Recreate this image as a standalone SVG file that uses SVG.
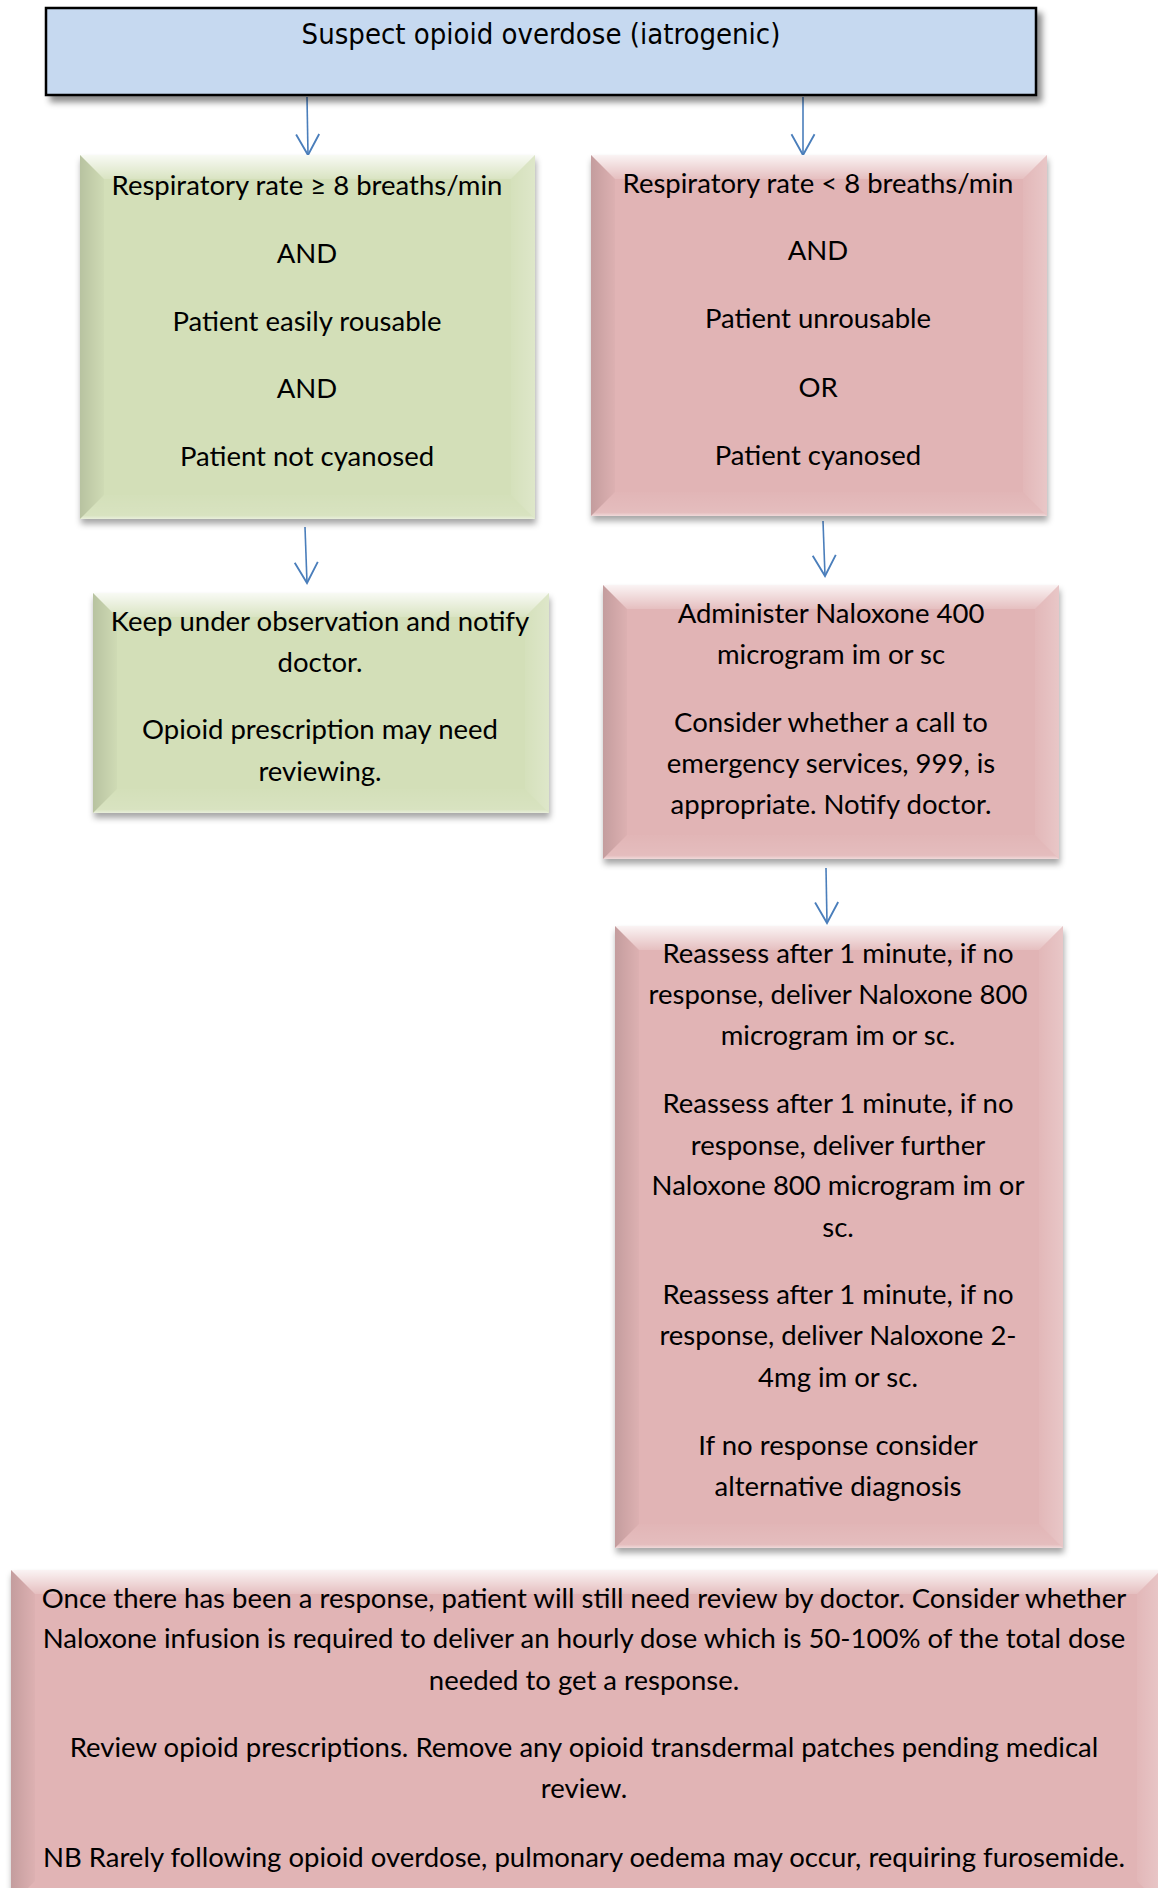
<svg xmlns="http://www.w3.org/2000/svg" width="1158" height="1888" viewBox="0 0 1158 1888">
<defs>
<style>
.t{font-family:Lato,"Open Sans","Liberation Sans",sans-serif;font-size:27.5px;fill:#000;text-anchor:middle}
.tt{font-family:"DejaVu Sans Condensed","DejaVu Sans",sans-serif;font-size:29px;fill:#000;text-anchor:middle}
.g{fill:#d3dfb8}
.r{fill:#e1b4b5}
.bt{fill:url(#gTop)}
.bl{fill:url(#gLeft)}
.br{fill:url(#gRight)}
.bb{fill:url(#gBot)}
.conn{stroke:#4a7ebb;stroke-width:1.6;fill:none;marker-end:url(#ah)}
</style>
<linearGradient id="gTop" x1="0" y1="0" x2="0" y2="1"><stop offset="0" stop-color="#fff" stop-opacity="0.85"/><stop offset="1" stop-color="#fff" stop-opacity="0.15"/></linearGradient>
<linearGradient id="gLeft" x1="0" y1="0" x2="1" y2="0"><stop offset="0" stop-color="#000" stop-opacity="0.13"/><stop offset="1" stop-color="#000" stop-opacity="0.02"/></linearGradient>
<linearGradient id="gRight" x1="0" y1="0" x2="1" y2="0"><stop offset="0" stop-color="#fff" stop-opacity="0.05"/><stop offset="1" stop-color="#fff" stop-opacity="0.25"/></linearGradient>
<linearGradient id="gBot" x1="0" y1="0" x2="0" y2="1"><stop offset="0" stop-color="#fff" stop-opacity="0.02"/><stop offset="0.85" stop-color="#fff" stop-opacity="0.12"/><stop offset="1" stop-color="#fff" stop-opacity="0.5"/></linearGradient>
<filter id="sh" x="-5%" y="-5%" width="110%" height="115%">
<feGaussianBlur in="SourceAlpha" stdDeviation="3"/>
<feOffset dx="1" dy="5" result="b"/>
<feFlood flood-color="#000" flood-opacity="0.35"/>
<feComposite in2="b" operator="in"/>
<feMerge><feMergeNode/><feMergeNode in="SourceGraphic"/></feMerge>
</filter>
<filter id="sh2" x="-5%" y="-20%" width="110%" height="150%">
<feGaussianBlur in="SourceAlpha" stdDeviation="3"/>
<feOffset dx="5" dy="6" result="b"/>
<feFlood flood-color="#000" flood-opacity="0.45"/>
<feComposite in2="b" operator="in"/>
<feMerge><feMergeNode/><feMergeNode in="SourceGraphic"/></feMerge>
</filter>
<marker id="ah" markerUnits="userSpaceOnUse" markerWidth="30" markerHeight="30" viewBox="-22 -13 26 26" refX="0" refY="0" orient="auto">
<path d="M-18,-10 L0,0 L-18,10" fill="none" stroke="#4a7ebb" stroke-width="1.6"/>
</marker>
</defs>
<rect width="1158" height="1888" fill="#fff"/>

<g id="connectors">
<path class="conn" d="M307,97 L308,155"/>
<path class="conn" d="M803,97 L803,155"/>
<path class="conn" d="M305,527 L307,583"/>
<path class="conn" d="M823,521 L825,576"/>
<path class="conn" d="M826,868 L827,923"/>
</g>

<g id="n-top">
<rect x="46" y="8" width="990" height="87" fill="#c6d9f0" stroke="#000" stroke-width="2.5" filter="url(#sh2)"/>
<text class="tt" x="541" y="44">Suspect opioid overdose (iatrogenic)</text>
</g>

<g id="n-green1">
<rect class="g" x="80" y="155" width="455" height="364" filter="url(#sh)"/>
<polygon class="bt" points="80,155 535,155 511,179 104,179"/>
<polygon class="bl" points="80,155 104,179 104,495 80,519"/>
<polygon class="br" points="535,155 535,519 511,495 511,179"/>
<polygon class="bb" points="80,519 104,495 511,495 535,519"/>
<text class="t" x="307" y="195">Respiratory rate ≥ 8 breaths/min</text>
<text class="t" x="307" y="263">AND</text>
<text class="t" x="307" y="331">Patient easily rousable</text>
<text class="t" x="307" y="398">AND</text>
<text class="t" x="307" y="466">Patient not cyanosed</text>
</g>

<g id="n-red1">
<rect class="r" x="591" y="155" width="456" height="361" filter="url(#sh)"/>
<polygon class="bt" points="591,155 1047,155 1023,179 615,179"/>
<polygon class="bl" points="591,155 615,179 615,492 591,516"/>
<polygon class="br" points="1047,155 1047,516 1023,492 1023,179"/>
<polygon class="bb" points="591,516 615,492 1023,492 1047,516"/>
<text class="t" x="818" y="193">Respiratory rate &lt; 8 breaths/min</text>
<text class="t" x="818" y="260">AND</text>
<text class="t" x="818" y="328">Patient unrousable</text>
<text class="t" x="818" y="397">OR</text>
<text class="t" x="818" y="465">Patient cyanosed</text>
</g>

<g id="n-green2">
<rect class="g" x="93" y="593" width="456" height="220" filter="url(#sh)"/>
<polygon class="bt" points="93,593 549,593 525,617 117,617"/>
<polygon class="bl" points="93,593 117,617 117,789 93,813"/>
<polygon class="br" points="549,593 549,813 525,789 525,617"/>
<polygon class="bb" points="93,813 117,789 525,789 549,813"/>
<text class="t" x="320" y="631">Keep under observation and notify</text>
<text class="t" x="320" y="672">doctor.</text>
<text class="t" x="320" y="739">Opioid prescription may need</text>
<text class="t" x="320" y="781">reviewing.</text>
</g>

<g id="n-red2">
<rect class="r" x="603" y="585" width="456" height="274" filter="url(#sh)"/>
<polygon class="bt" points="603,585 1059,585 1035,609 627,609"/>
<polygon class="bl" points="603,585 627,609 627,835 603,859"/>
<polygon class="br" points="1059,585 1059,859 1035,835 1035,609"/>
<polygon class="bb" points="603,859 627,835 1035,835 1059,859"/>
<text class="t" x="831" y="623">Administer Naloxone 400</text>
<text class="t" x="831" y="664">microgram im or sc</text>
<text class="t" x="831" y="732">Consider whether a call to</text>
<text class="t" x="831" y="773">emergency services, 999, is</text>
<text class="t" x="831" y="814">appropriate. Notify doctor.</text>
</g>

<g id="n-red3">
<rect class="r" x="615" y="926" width="448" height="622" filter="url(#sh)"/>
<polygon class="bt" points="615,926 1063,926 1039,950 639,950"/>
<polygon class="bl" points="615,926 639,950 639,1524 615,1548"/>
<polygon class="br" points="1063,926 1063,1548 1039,1524 1039,950"/>
<polygon class="bb" points="615,1548 639,1524 1039,1524 1063,1548"/>
<text class="t" x="838" y="963">Reassess after 1 minute, if no</text>
<text class="t" x="838" y="1004">response, deliver Naloxone 800</text>
<text class="t" x="838" y="1045">microgram im or sc.</text>
<text class="t" x="838" y="1113">Reassess after 1 minute, if no</text>
<text class="t" x="838" y="1155">response, deliver further</text>
<text class="t" x="838" y="1195">Naloxone 800 microgram im or</text>
<text class="t" x="838" y="1237">sc.</text>
<text class="t" x="838" y="1304">Reassess after 1 minute, if no</text>
<text class="t" x="838" y="1345">response, deliver Naloxone 2-</text>
<text class="t" x="838" y="1387">4mg im or sc.</text>
<text class="t" x="838" y="1455">If no response consider</text>
<text class="t" x="838" y="1496">alternative diagnosis</text>
</g>

<g id="n-bottom">
<rect class="r" x="11" y="1570" width="1150" height="335" filter="url(#sh)"/>
<polygon class="bt" points="11,1570 1161,1570 1137,1594 35,1594"/>
<polygon class="bl" points="11,1570 35,1594 35,1881 11,1905"/>
<polygon class="br" points="1161,1570 1161,1905 1137,1881 1137,1594"/>
<text class="t" x="584" y="1608">Once there has been a response, patient will still need review by doctor. Consider whether</text>
<text class="t" x="584" y="1648">Naloxone infusion is required to deliver an hourly dose which is 50-100% of the total dose</text>
<text class="t" x="584" y="1690">needed to get a response.</text>
<text class="t" x="584" y="1757">Review opioid prescriptions. Remove any opioid transdermal patches pending medical</text>
<text class="t" x="584" y="1798">review.</text>
<text class="t" x="584" y="1867">NB Rarely following opioid overdose, pulmonary oedema may occur, requiring furosemide.</text>
</g>
</svg>
